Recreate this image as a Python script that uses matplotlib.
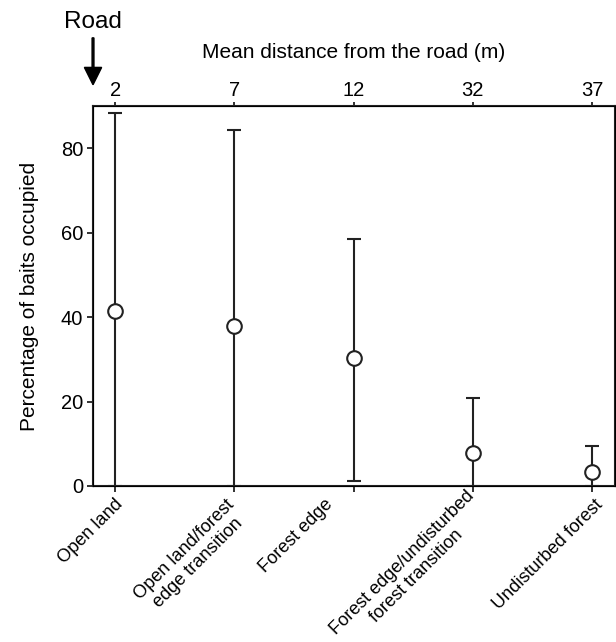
import matplotlib
matplotlib.use("Agg")
import matplotlib.pyplot as plt
import matplotlib.transforms as mtransforms
import numpy as np

plt.rcParams['font.family'] = ['Liberation Sans', 'DejaVu Sans']

habitats = ["Open land", "Open land/forest\nedge transition", "Forest edge",
            "Forest edge/undisturbed\nforest transition", "Undisturbed forest"]
distances = ["2", "7", "12", "32", "37"]
occupied = [41.4, 37.8, 30.2, 7.9, 3.2]
upper = [88.4, 84.2, 58.6, 20.8, 9.4]
lower = [0.0, 0.0, 1.3, 0.0, 0.0]

# per-label nudges (pixels) so the rotated labels sit like the original
label_dx = [-1, -9, -29, -7, 2]
label_dy = [10, 10, 10, 1, 10]

x = np.arange(len(habitats))
occ = np.array(occupied)
yerr = [occ - np.array(lower), np.array(upper) - occ]

fig = plt.figure(figsize=(6.16, 6.42), dpi=100)
ax = fig.add_axes([0.151, 0.243, 0.847, 0.592])

ax.errorbar(x, occ, yerr=yerr, fmt='o', color='#222222', ecolor='#222222',
            elinewidth=1.5, capsize=5, capthick=1.8, markersize=10.5,
            markerfacecolor='white', markeredgewidth=1.5, zorder=3)

ax.set_xlim(-0.185, 4.19)
ax.set_ylim(0, 90)
ax.set_yticks([0, 20, 40, 60, 80])
ax.set_xticks(x)
ax.set_xticklabels([])
for xi, lab, dx, dy in zip(x, habitats, label_dx, label_dy):
    off = mtransforms.ScaledTranslation(dx / 100, -dy / 100, fig.dpi_scale_trans)
    ax.text(xi, 0, lab, transform=ax.get_xaxis_transform() + off,
            rotation=45, ha='right', va='top', rotation_mode='anchor',
            multialignment='center', fontsize=13.1)

ax.set_ylabel("Percentage of baits occupied", fontsize=15, labelpad=16)
ax.tick_params(axis='y', labelsize=14.5, width=1.3, length=4, pad=3, color='#222222')
ax.tick_params(axis='x', width=1.3, length=4, pad=3, color='#222222')
for s in ax.spines.values():
    s.set_linewidth(1.5)
    s.set_color('#222222')

top = ax.twiny()
top.set_xlim(ax.get_xlim())
top.set_xticks(x)
top.set_xticklabels(distances)
top.tick_params(axis='x', labelsize=14.5, width=1.3, length=3, pad=1, color='#222222')
top.set_xlabel("Mean distance from the road (m)", fontsize=15, labelpad=17)

fig.text(0.151, 0.966, "Road", fontsize=17.5, ha='center', va='center')
fig.patches.append(matplotlib.patches.FancyArrow(
    0.151, 0.941, 0, -0.073, width=0.003, head_width=0.028, head_length=0.027,
    length_includes_head=True, color='black', transform=fig.transFigure, figure=fig))

fig.savefig("out.png", dpi=100)
